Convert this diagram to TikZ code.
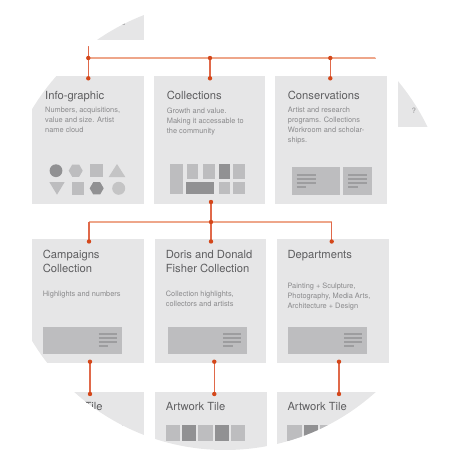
\documentclass[tikz,border=0pt]{standalone}
\usepackage{fontspec}
\setmainfont{TeX Gyre Heros}
\usetikzlibrary{calc}
\definecolor{boxgray}{HTML}{E6E6E7}
\definecolor{panelgray}{HTML}{BDBDBF}
\definecolor{deepgray}{HTML}{919193}
\definecolor{stripgray}{HTML}{9D9D9F}
\definecolor{titlecol}{HTML}{5E5E60}
\definecolor{bodycol}{HTML}{8A8A8C}
\definecolor{orvert}{HTML}{E0694A}
\definecolor{orhor}{HTML}{EEA68A}
\definecolor{ordot}{HTML}{D4471A}
\tikzset{
  card/.style={rectangle, fill=boxgray, draw=none, inner sep=0pt, anchor=north west},
  ttl/.style={anchor=north west, inner sep=0pt, align=left, text=titlecol, font=\fontsize{11.2}{13.4}\selectfont},
  bodytxt/.style={anchor=north west, inner sep=0pt, align=left, text=bodycol, font=\fontsize{7.4}{10}\selectfont},
  vconn/.style={draw=orvert, line width=1.3pt},
  hconn/.style={draw=orhor, line width=1.3pt},
  jdot/.style={fill=ordot},
  light/.style={fill=panelgray},
  dark/.style={fill=deepgray},
  strip/.style={draw=stripgray, line width=2.2pt},
}
\newcommand{\jd}[1]{\fill[jdot] (#1) circle (2.2pt);}
\newcommand{\lines}[3]{% right x, left x, top y
  \draw[strip] (#2,#3) -- (#1,#3);
  \draw[strip] (#2,#3+3.8) -- (#1,#3+3.8);
  \draw[strip] (#2,#3+7.8) -- (#1,#3+7.8);
  \draw[strip] (#2,#3+11.8) -- (#2+9.5,#3+11.8);}
\begin{document}
\begin{tikzpicture}[x=1pt,y=-1pt]
\useasboundingbox (0,0) rectangle (450,450);
\clip (225,225) circle (225pt);

% ---------- cards ----------
\node[card, minimum width=111.3pt, minimum height=59.3pt] (topcard) at (32,-20) {};
\node[card, minimum width=60pt, minimum height=57pt] (qcard) at (398,70) {};
\node[card, minimum width=111.3pt, minimum height=127.3pt] (info) at (32,76) {};
\node[card, minimum width=111.7pt, minimum height=127.3pt] (coll) at (153.3,76) {};
\node[card, minimum width=111.6pt, minimum height=127.3pt] (cons) at (274.7,76) {};
\node[card, minimum width=112pt, minimum height=124pt] (camp) at (32,239) {};
\node[card, minimum width=111pt, minimum height=124pt] (doris) at (155,239) {};
\node[card, minimum width=111.6pt, minimum height=124pt] (dept) at (276.7,239) {};
\node[card, minimum width=112pt, minimum height=80pt] (atl) at (32,391.7) {};
\node[card, minimum width=111.7pt, minimum height=80pt] (atm) at (155,391.7) {};
\node[card, minimum width=111.6pt, minimum height=80pt] (atr) at (276.7,391.7) {};

\fill[deepgray!70] (121,23) rectangle (125,25.2);
\node[text=bodycol, font=\fontsize{7.4}{9}\selectfont] (qmark) at (414,111) {?};

% ---------- titles and texts ----------
\node[ttl] (tinfo) at (45,90.9) {Info-graphic};
\node[bodytxt] (binfo) at (45,107.4) {Numbers, acquisitions,\\value and size. Artist\\name cloud};
\node[ttl] (tcoll) at (166.7,90.9) {Collections};
\node[bodytxt] (bcoll) at (166.7,107.4) {Growth and value.\\Making it accessable to\\the community};
\node[ttl] (tcons) at (287.7,90.9) {Conservations};
\node[bodytxt] (bcons) at (287.7,107.4) {Artist and research\\programs. Collections\\Workroom and scholar-\\ships.};

\node[ttl] (tcamp) at (42.7,250.4) {Campaigns\\Collection};
\node[bodytxt] (bcamp) at (42.7,291.1) {Highlights and numbers};
\node[ttl] (tdoris) at (165.7,250.4) {Doris and Donald\\Fisher Collection};
\node[bodytxt] (bdoris) at (165.7,291.1) {Collection highlights,\\collectors and artists};
\node[ttl] (tdept) at (287.3,250) {Departments};
\node[bodytxt] (bdept) at (287.3,282.6) {Painting + Sculpture,\\Photography, Media Arts,\\Architecture + Design};

\node[ttl] (tatl) at (43,402.6) {Artwork Tile};
\node[ttl] (tatm) at (165.7,402.6) {Artwork Tile};
\node[ttl] (tatr) at (287.3,402.6) {Artwork Tile};

% ---------- info-graphic shapes ----------
\fill[deepgray] (56,170.7) circle (6.4pt);
\fill[panelgray] (75.7,170.7) +(0:7) -- +(60:7) -- +(120:7) -- +(180:7) -- +(240:7) -- +(300:7) -- cycle;
\fill[panelgray] (90,164) rectangle (102.7,176.7);
\fill[panelgray!90!white] (108.7,177) -- (125.3,177) -- (117,164) -- cycle;
\fill[panelgray] (49.3,182) -- (64.7,182) -- (57,194.7) -- cycle;
\fill[panelgray] (72,182) rectangle (84.3,194.7);
\fill[deepgray] (96.7,188.3) +(0:7) -- +(60:7) -- +(120:7) -- +(180:7) -- +(240:7) -- +(300:7) -- cycle;
\fill[panelgray!90!white] (118.7,188.3) circle (6.5pt);

% ---------- collections grid ----------
\fill[light] (170,164) rectangle (182.7,194);
\fill[light] (186.7,164) rectangle (198.3,179);
\fill[light] (203.3,164) rectangle (215,179);
\fill[dark] (218.7,164) rectangle (230,179);
\fill[light] (232.7,164) rectangle (244.7,179);
\fill[dark] (186,182) rectangle (214.3,194);
\fill[light] (218.7,182) rectangle (230,194);
\fill[light] (232.7,182) rectangle (244.7,194);

% ---------- conservations panels ----------
\fill[light] (291.7,167.3) rectangle (340,194.7);
\fill[light] (343.3,167.3) rectangle (371.7,194.7);
\lines{315.7}{296.7}{175}
\lines{366.7}{348.3}{175}

% ---------- row 2 panels ----------
\fill[light] (43.3,326.7) rectangle (121.7,354);
\lines{116.7}{98.7}{334}
\fill[light] (167.7,326.7) rectangle (246.7,354);
\lines{241.3}{223.3}{334}
\fill[light] (288.3,326.7) rectangle (366.7,354);
\lines{361.7}{344}{334}

% ---------- artwork tiles ----------
\foreach \bx in {43,165.7,287.3}{
  \fill[light] (\bx,425) rectangle ++(14.3,16);
  \fill[dark]  (\bx+16.3,425) rectangle ++(14.3,16);
  \fill[light] (\bx+32.6,425) rectangle ++(14.3,16);
  \fill[dark]  (\bx+49.3,425) rectangle ++(14.3,16);
  \fill[light] (\bx+65.3,425) rectangle ++(14.3,16);
}

% ---------- connectors ----------
\coordinate (ptop) at (88.3,46);
\coordinate (j0) at (88.3,58);
\coordinate (hend) at (376,58);
\coordinate (jinfo) at (88.3,78.3);
\coordinate (jc1) at (210,58);
\coordinate (jcoll) at (210,78.3);
\coordinate (jc2) at (330.3,58);
\coordinate (jcons) at (330.3,78.3);
\draw[hconn] (j0) -- (hend);
\draw[vconn] (ptop) -- (jinfo);
\draw[vconn] (jc1) -- (jcoll);
\draw[vconn] (jc2) -- (jcons);

\coordinate (jcb) at (211,202);
\coordinate (jmid) at (211,222);
\coordinate (hl) at (89,222);
\coordinate (hr) at (331.7,222);
\coordinate (jcamp) at (89,241.5);
\coordinate (jdoris) at (211,241.5);
\coordinate (jdept) at (331.7,241.5);
\draw[hconn] (hl) -- (hr);
\draw[vconn] (jcb) -- (jmid);
\draw[vconn] (hl) -- (jcamp);
\draw[vconn] (jmid) -- (jdoris);
\draw[vconn] (hr) -- (jdept);

\coordinate (b1) at (90,361.7);
\coordinate (t1) at (90,394);
\coordinate (b2) at (214.3,361.7);
\coordinate (t2) at (214.3,394);
\coordinate (b3) at (339,361.7);
\coordinate (t3) at (339,394);
\draw[vconn] (b1) -- (t1);
\draw[vconn] (b2) -- (t2);
\draw[vconn] (b3) -- (t3);

\jd{j0}\jd{jinfo}\jd{jc1}\jd{jcoll}\jd{jc2}\jd{jcons}
\jd{jcb}\jd{jmid}\jd{jcamp}\jd{jdoris}\jd{jdept}
\jd{b1}\jd{t1}\jd{b2}\jd{t2}\jd{b3}\jd{t3}
\end{tikzpicture}
\end{document}
